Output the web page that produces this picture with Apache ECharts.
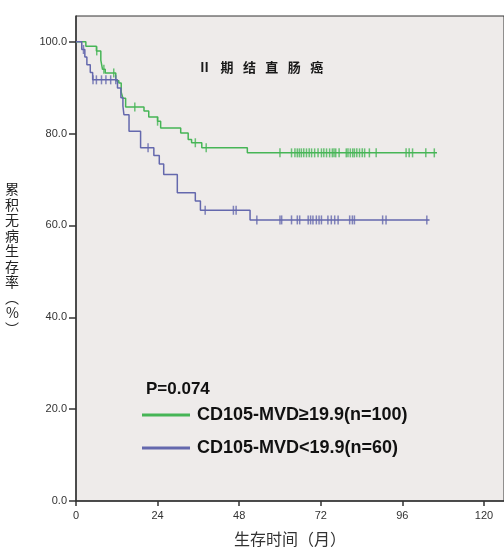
<!DOCTYPE html>
<html><head><meta charset="utf-8">
<script src="https://cdn.jsdelivr.net/npm/echarts@6/dist/echarts.min.js"></script>
<style>html,body{margin:0;padding:0;background:#fff}#c{width:504px;height:552px}</style>
</head><body><div id="c"></div>
<script>
const xTicks = [0, 24, 48, 72, 96, 120];
const yTicks = [0, 20, 40, 60, 80, 100];
const chartTitle = 'Ⅱ期结直肠癌';
const pText = 'P=0.074';
const xName = '生存时间（月）';
const yName = '累积无病生存率︵%︶';
const highName = 'CD105-MVD≥19.9(n=100)';
const lowName = 'CD105-MVD<19.9(n=60)';

// Kaplan-Meier steps [month, survival %]
const highSteps = [[0,100],[2.9,99],[6,98],[7.3,96],[7.8,94],[8.6,93.2],[11.7,91.5],[12.6,91],[13.3,89],[13.8,87.7],[14.6,85.8],[20,84.9],[21.4,83.6],[24,82.7],[24.9,81.2],[30.8,80.1],[33,78.7],[34,78],[37,76.9],[50.4,75.8],[106.2,75.8]];
const highCensor = [6.1,8.2,11.1,17.3,24.0,35.1,38.3,60.0,63.4,64.4,65.1,65.7,66.3,67.0,67.8,68.6,69.3,70.2,71.2,72.2,72.9,73.7,74.6,75.4,75.9,76.4,77.4,79.5,80.0,80.7,81.4,81.9,82.6,83.4,84.2,84.9,86.3,88.3,97.1,98.0,99.0,102.9,105.4];
const lowSteps = [[0,100],[1.7,98.3],[2.6,96.7],[3.2,95],[4.2,93.3],[4.9,91.7],[12.2,89.9],[13.2,87.8],[13.8,86],[14.1,84.1],[15.6,80.5],[19,76.9],[22.9,75.2],[24.5,73.4],[25.8,71.1],[29.8,67.1],[35.1,65.3],[36.6,63.3],[51.2,61.2],[104,61.2]];
const lowCensor = [2.2,5.0,6.0,7.5,8.8,10.2,11.7,21.2,38.0,46.3,47.1,53.2,60.0,60.5,63.4,65.1,65.8,68.3,69.0,69.7,70.7,71.5,72.2,74.1,75.1,76.1,77.1,80.5,81.3,81.9,90.2,91.2,103.2];

const GREEN = '#46B556';
const BLUE = '#6468AD';

function survAt(steps, t) {
  let s = steps[0][1];
  for (const p of steps) { if (p[0] <= t) s = p[1]; else break; }
  return s;
}
const censorPts = (steps, times) => times.map(t => [t, survAt(steps, t)]);

const chart = echarts.init(document.getElementById('c'), null, {renderer: 'canvas'});
const labelFont = {fontFamily: 'Liberation Sans, Arial, sans-serif', fontSize: 11, color: '#333'};
chart.setOption({
  animation: false,
  backgroundColor: '#fff',
  title: [
    {text: chartTitle.split('').join('\u2002 '), left: 193, top: 56,
     textStyle: {fontFamily: 'Noto Sans CJK SC', fontWeight: 'bold', fontSize: 13, color: '#1a1a1a'}},
    {text: pText, left: 141, top: 376,
     textStyle: {fontFamily: 'Liberation Sans, Arial, sans-serif', fontWeight: 'bold', fontSize: 17, color: '#111'}}
  ],
  legend: {
    orient: 'vertical', left: 137, top: 401, itemWidth: 48, itemHeight: 3, itemGap: 15,
    data: [{name: highName, icon: 'rect'}, {name: lowName, icon: 'rect'}],
    textStyle: {fontFamily: 'Liberation Sans, Arial, sans-serif', fontWeight: 'bold', fontSize: 18, color: '#111', padding: [4,0,0,2]}
  },
  grid: {left: 76, right: -2, top: 16, bottom: 48, show: true, backgroundColor: '#EEEBEA', borderColor: '#333', borderWidth: 1},
  xAxis: {
    type: 'value', min: 0, max: 125.9,
    name: xName, nameLocation: 'middle', nameGap: 30,
    nameTextStyle: {fontFamily: 'Noto Sans CJK SC', fontSize: 16, color: '#333'},
    axisLine: {show: true, lineStyle: {color: '#333', width: 1.5}},
    axisTick: {show: true, length: 5, lineStyle: {color: '#333', width: 1.5}, customValues: xTicks},
    axisLabel: Object.assign({margin: 9, customValues: xTicks}, labelFont),
    splitLine: {show: false}
  },
  yAxis: {
    type: 'value', min: 0, max: 105.6,
    name: yName.split('').join('\n'), nameLocation: 'middle', nameGap: 57, nameRotate: 0,
    nameTextStyle: {fontFamily: 'Noto Sans CJK SC', fontSize: 14, lineHeight: 15.5, color: '#222'},
    axisLine: {show: true, lineStyle: {color: '#333', width: 1.5}},
    axisTick: {show: true, length: 7, lineStyle: {color: '#333', width: 1.5}, customValues: yTicks},
    axisLabel: Object.assign({margin: 9, customValues: yTicks, formatter: v => Number(v).toFixed(1)}, labelFont),
    splitLine: {show: false}
  },
  series: [
    {name: highName, type: 'line', step: 'end', data: highSteps, showSymbol: false, symbol: 'none',
     lineStyle: {color: GREEN, width: 1.5}, itemStyle: {color: GREEN}, z: 3},
    {name: lowName, type: 'line', step: 'end', data: lowSteps, showSymbol: false, symbol: 'none',
     lineStyle: {color: BLUE, width: 1.5}, itemStyle: {color: BLUE}, z: 3},
    {name: 'highCensor', type: 'scatter', data: censorPts(highSteps, highCensor), symbol: 'rect', symbolSize: [1.5, 9],
     itemStyle: {color: GREEN}, z: 4},
    {name: 'lowCensor', type: 'scatter', data: censorPts(lowSteps, lowCensor), symbol: 'rect', symbolSize: [1.5, 9],
     itemStyle: {color: BLUE}, z: 4}
  ]
});
</script></body></html>
